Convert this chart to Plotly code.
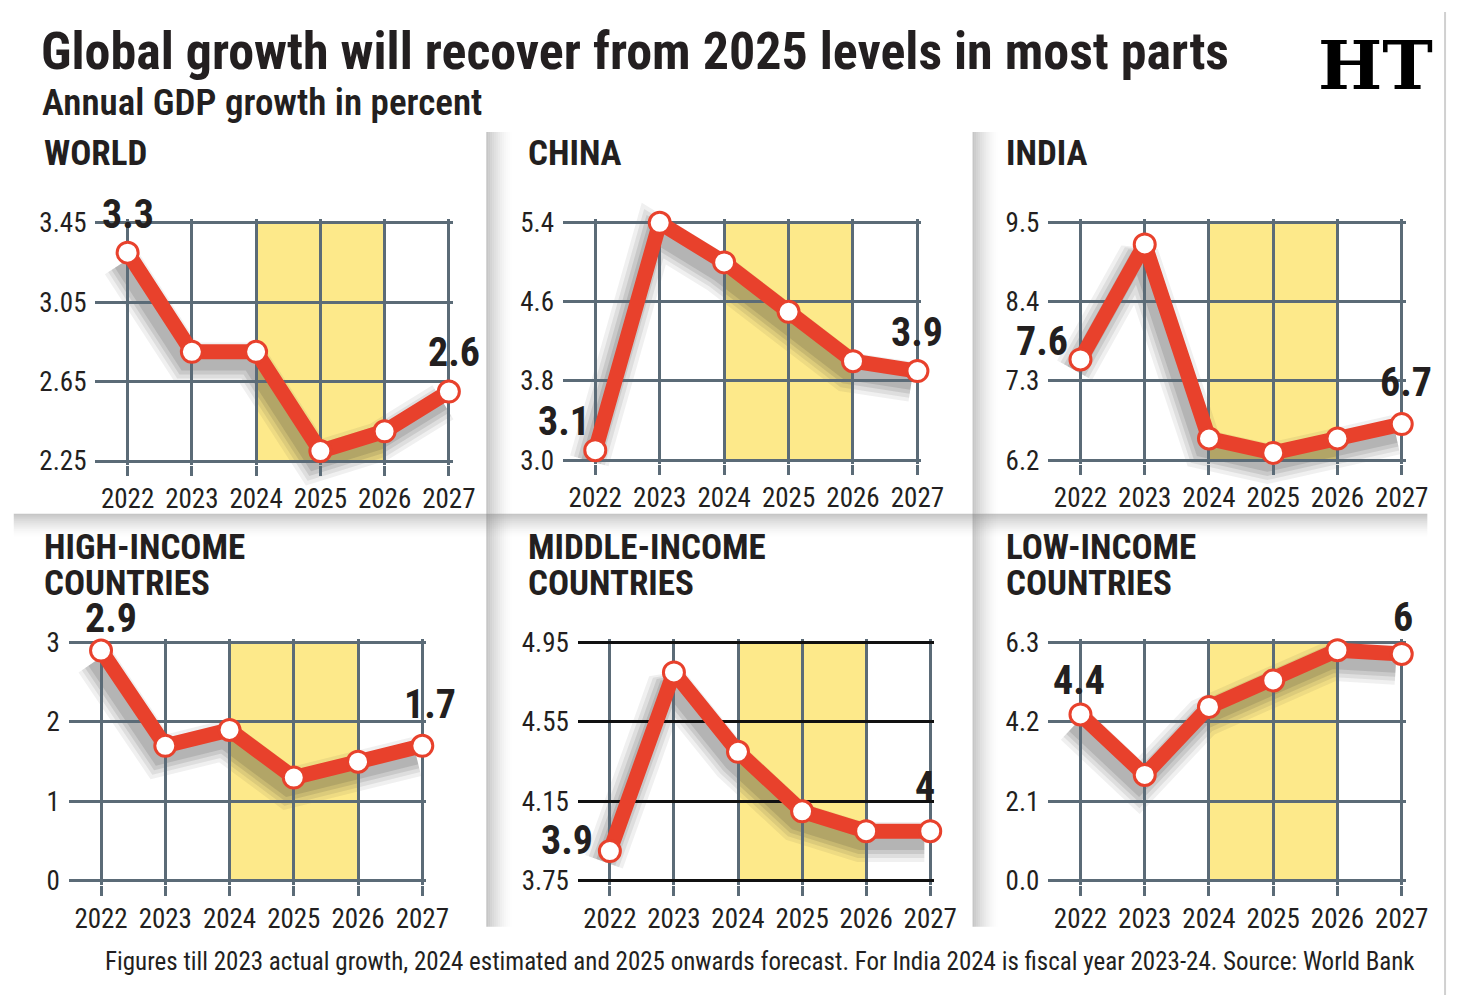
import plotly.graph_objects as go

# ---------------- data ----------------
years = [2022, 2023, 2024, 2025, 2026, 2027]
world = [3.3, 2.8, 2.8, 2.3, 2.4, 2.6]
china = [3.1, 5.4, 5.0, 4.5, 4.0, 3.9]
india = [7.6, 9.2, 6.5, 6.3, 6.5, 6.7]
high_income = [2.9, 1.7, 1.9, 1.3, 1.5, 1.7]
middle_income = [3.9, 4.8, 4.4, 4.1, 4.0, 4.0]
low_income = [4.4, 2.8, 4.6, 5.3, 6.1, 6.0]

world_ticks = [2.25, 2.65, 3.05, 3.45]
china_ticks = [3.0, 3.8, 4.6, 5.4]
india_ticks = [6.2, 7.3, 8.4, 9.5]
high_ticks = [0, 1, 2, 3]
middle_ticks = [3.75, 4.15, 4.55, 4.95]
low_ticks = [0.0, 2.1, 4.2, 6.3]

world_ticktext = ["2.25", "2.65", "3.05", "3.45"]
china_ticktext = ["3.0", "3.8", "4.6", "5.4"]
india_ticktext = ["6.2", "7.3", "8.4", "9.5"]
high_ticktext = ["0", "1", "2", "3"]
middle_ticktext = ["3.75", "4.15", "4.55", "4.95"]
low_ticktext = ["0.0", "2.1", "4.2", "6.3"]

year_labels = ["2022", "2023", "2024", "2025", "2026", "2027"]
forecast_band = [2024, 2026]

first_labels = ["3.3", "3.1", "7.6", "2.9", "3.9", "4.4"]
last_labels = ["2.6", "3.9", "6.7", "1.7", "4", "6"]

panel_titles = [["WORLD"], ["CHINA"], ["INDIA"],
                ["HIGH-INCOME", "COUNTRIES"], ["MIDDLE-INCOME", "COUNTRIES"], ["LOW-INCOME", "COUNTRIES"]]

title_text = "Global growth will recover from 2025 levels in most parts"
subtitle_text = "Annual GDP growth in percent"
footer_text = ("Figures till 2023 actual growth, 2024 estimated and 2025 onwards forecast. "
               "For India 2024 is fiscal year 2023-24. Source: World Bank")
logo_text = "HT"

series = [world, china, india, high_income, middle_income, low_income]
ticks = [world_ticks, china_ticks, india_ticks, high_ticks, middle_ticks, low_ticks]
ticktexts = [world_ticktext, china_ticktext, india_ticktext, high_ticktext, middle_ticktext, low_ticktext]

# ---------------- layout / style ----------------
W, H = 1471, 1007
FONT = "Liberation Sans Narrow, Roboto Condensed, DejaVu Sans Condensed, Arial Narrow, sans-serif"
TXT = "#231f20"
GRID = "#5b6b77"
RED = "#e8412c"
YELLOW = "#fde98a"

def px(x):
    return x / W

def py(y):
    return 1 - y / H

# plot areas in pixels: (left, right, top, bottom)
areas = [(97, 456, 216, 460), (572, 932, 216, 459), (1065, 1424, 216, 459),
         (70, 429, 646, 890), (587, 945, 646, 890), (1065, 1424, 646, 890)]
title_pos = [(43, 145), (534, 145), (1020, 145), (43, 549), (534, 549), (1020, 549)]
hgrid_colors = [GRID, GRID, GRID, GRID, "#111111", GRID]
first_shift = [(0, 38), (-31, 29), (-38, 18), (10, 32), (-43, 11), (-1, 34)]
last_shift = [(5, 39), (0, 39), (4, 42), (8, 41), (-5, 45), (1, 36)]

XR = [2021.5, 2027]
PAD = 4  # px of padding so that the edge gridlines are drawn
fig = go.Figure()
shapes = []
annotations = []
layout_axes = {}

def vgrad(x, y0, y1, width=26, n=13, a0=0.42):
    for i in range(n):
        shapes.append(dict(type="rect", xref="paper", yref="paper", layer="below",
                           x0=px(x + i * width / n), x1=px(x + (i + 1) * width / n),
                           y0=py(y1), y1=py(y0), line=dict(width=0),
                           fillcolor=f"rgba(120,120,120,{a0 * (1 - i / n) ** 1.6:.3f})"))

def hgrad(y, x0, x1, height=24, n=12, a0=0.42):
    for i in range(n):
        shapes.append(dict(type="rect", xref="paper", yref="paper", layer="below",
                           x0=px(x0), x1=px(x1),
                           y0=py(y + (i + 1) * height / n), y1=py(y + i * height / n),
                           line=dict(width=0),
                           fillcolor=f"rgba(120,120,120,{a0 * (1 - i / n) ** 1.6:.3f})"))

vgrad(494, 123, 514)
vgrad(988, 123, 514)
hgrad(514, 14, 1450)
vgrad(494, 514, 937)
vgrad(988, 514, 937)
shapes.append(dict(type="line", xref="paper", yref="paper", layer="below",
                   x0=px(1468), x1=px(1468), y0=0, y1=1, line=dict(color="#d0d0d0", width=2)))

DX, DY = -6, 11  # drop-shadow offset in px

for i in range(6):
    L, R, T, B = areas[i]
    lo, hi = ticks[i][0], ticks[i][-1]
    sx = (R - L) / (XR[1] - XR[0])
    sy = (B - T) / (hi - lo)

    # shadow subplot (axes 1..6), same scale, shifted a few pixels
    sid = i + 1
    ex, ey = 0.5, 0.3 * (hi - lo)
    sxa = "xaxis" if sid == 1 else f"xaxis{sid}"
    sya = "yaxis" if sid == 1 else f"yaxis{sid}"
    layout_axes[sxa] = dict(domain=[px(L - ex * sx + DX), px(R + ex * sx + DX)],
                            range=[XR[0] - ex, XR[1] + ex], visible=False,
                            anchor=f"y{sid}" if sid > 1 else "y", fixedrange=True)
    layout_axes[sya] = dict(domain=[py(B + ey * sy + DY), py(T - ey * sy + DY)],
                            range=[lo - ey, hi + ey], visible=False,
                            anchor=f"x{sid}" if sid > 1 else "x", fixedrange=True)
    for w, a in [(40, 0.07), (32, 0.09), (24, 0.11), (16, 0.13)]:
        fig.add_trace(go.Scatter(x=years, y=series[i], mode="lines",
                                 line=dict(color=f"rgba(40,40,40,{a})", width=w),
                                 xaxis=f"x{sid}" if sid > 1 else "x",
                                 yaxis=f"y{sid}" if sid > 1 else "y",
                                 hoverinfo="skip", showlegend=False, cliponaxis=False))

    # main subplot (axes 7..12)
    mid = i + 7
    xa, ya = f"x{mid}", f"y{mid}"
    layout_axes[f"xaxis{mid}"] = dict(
        domain=[px(L), px(R + PAD)], range=[XR[0], XR[1] + PAD / sx], anchor=ya,
        tickmode="array", tickvals=years, ticktext=year_labels,
        showgrid=True, gridcolor=GRID, gridwidth=3, zeroline=False, showline=False,
        ticks="outside", ticklen=10, tickwidth=3, tickcolor=GRID,
        tickfont=dict(family=FONT, size=27, color=TXT), fixedrange=True)
    layout_axes[f"yaxis{mid}"] = dict(
        domain=[py(B + PAD), py(T - PAD)], range=[lo - PAD / sy, hi + PAD / sy], anchor=xa,
        tickmode="array", tickvals=ticks[i], ticktext=ticktexts[i],
        showgrid=True, gridcolor=hgrid_colors[i], gridwidth=3, zeroline=False, showline=False,
        ticks="", ticklabelstandoff=8,
        tickfont=dict(family=FONT, size=27, color=TXT), fixedrange=True)

    shapes.append(dict(type="rect", xref=xa, yref="paper", layer="below",
                       x0=forecast_band[0], x1=forecast_band[1], y0=py(B), y1=py(T),
                       fillcolor=YELLOW, line=dict(width=0)))

    fig.add_trace(go.Scatter(x=years, y=series[i], mode="lines+markers",
                             line=dict(color=RED, width=15),
                             marker=dict(size=21, color="white", line=dict(color=RED, width=3)),
                             xaxis=xa, yaxis=ya, hoverinfo="skip", showlegend=False,
                             cliponaxis=False))

    for lab, xv, yv, (dx, dy) in [(first_labels[i], years[0], series[i][0], first_shift[i]),
                                  (last_labels[i], years[-1], series[i][-1], last_shift[i])]:
        annotations.append(dict(text=lab, x=xv, y=yv, xref=xa, yref=ya, xshift=dx, yshift=dy,
                                showarrow=False, xanchor="center", yanchor="middle",
                                font=dict(family=FONT, size=40, color=TXT, weight="bold")))

    tx, ty = title_pos[i]
    for k, line in enumerate(panel_titles[i]):
        annotations.append(dict(text=line, x=px(tx), y=py(ty + 36 * k), xref="paper", yref="paper",
                                showarrow=False, xanchor="left", yanchor="middle",
                                font=dict(family=FONT, size=35, color=TXT, weight="bold")))

annotations.append(dict(text=title_text, x=px(40), y=py(40), xref="paper", yref="paper",
                        showarrow=False, xanchor="left", yanchor="middle",
                        font=dict(family=FONT, size=52, color=TXT, weight="bold")))
annotations.append(dict(text=subtitle_text, x=px(41), y=py(93), xref="paper", yref="paper",
                        showarrow=False, xanchor="left", yanchor="middle",
                        font=dict(family=FONT, size=37, color=TXT, weight=600)))
annotations.append(dict(text=footer_text, x=px(1440), y=py(973), xref="paper", yref="paper",
                        showarrow=False, xanchor="right", yanchor="middle",
                        font=dict(family=FONT, size=25, color=TXT)))
annotations.append(dict(text=logo_text, x=px(1397), y=py(54), xref="paper", yref="paper",
                        showarrow=False, xanchor="center", yanchor="middle",
                        font=dict(family="DejaVu Serif, Liberation Serif, serif", size=68,
                                  color="black", weight="bold")))

fig.update_layout(width=W, height=H, margin=dict(l=0, r=0, t=0, b=0), autosize=False,
                  paper_bgcolor="white", plot_bgcolor="rgba(0,0,0,0)",
                  showlegend=False, shapes=shapes, annotations=annotations, **layout_axes)

fig.write_html("out.html", config={"displayModeBar": False, "responsive": False})

with open("out.html", "r", encoding="utf-8") as f:
    html = f.read()
style = "<style>html,body{margin:0;padding:0;overflow:hidden;background:#fff;}</style>"
if "<head>" in html:
    html = html.replace("<head>", "<head>" + style, 1)
else:
    html = style + html
with open("out.html", "w", encoding="utf-8") as f:
    f.write(html)
